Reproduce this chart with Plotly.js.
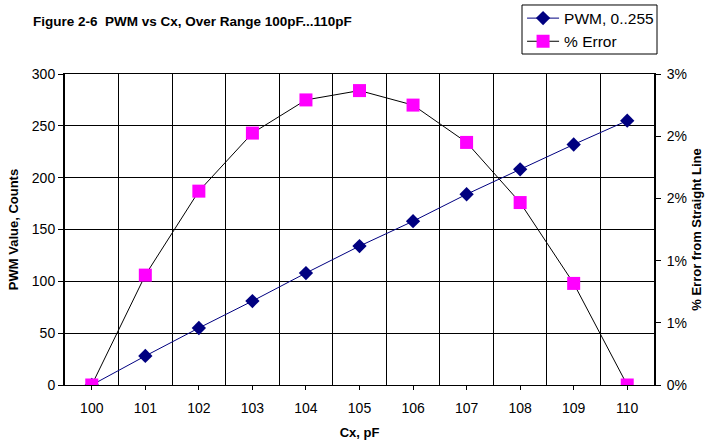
<!DOCTYPE html>
<html>
<head>
<meta charset="utf-8">
<script src="https://cdn.plot.ly/plotly-3.0.1.min.js"></script>
<style>html,body{margin:0;padding:0;background:#fff;}#chart{width:707px;height:446px;}</style>
</head>
<body>
<div id="chart"></div>
<script>
const cx = [100, 101, 102, 103, 104, 105, 106, 107, 108, 109, 110];
const pwm = [0, 28, 55, 81, 108, 134, 158, 184, 208, 232, 255];
const errorPct = [0, 1.06, 1.87, 2.43, 2.75, 2.84, 2.70, 2.34, 1.76, 0.98, 0];
const rightTickVals = [0, 0.6, 1.2, 1.8, 2.4, 3.0];
const rightTickText = ["0%", "1%", "1%", "2%", "2%", "3%"];

const fam = "Liberation Sans, Arial, sans-serif";
const tickFont = {family: fam, size: 14, color: "#000"};
const axTitleFont = {family: fam, size: 13, color: "#000"};

const traces = [
  {
    x: cx, y: pwm, name: "PWM, 0..255", type: "scatter", mode: "lines+markers",
    line: {color: "#000080", width: 1},
    marker: {symbol: "diamond", size: 11, color: "#000080"},
    yaxis: "y"
  },
  {
    x: cx, y: errorPct, name: "% Error", type: "scatter", mode: "lines+markers",
    line: {color: "#000000", width: 1},
    marker: {symbol: "square", size: 13, color: "#FF00FF"},
    yaxis: "y2"
  }
];

const layout = {
  width: 707, height: 446,
  margin: {l: 65, r: 53, t: 74, b: 61, autoexpand: false},
  paper_bgcolor: "#fff", plot_bgcolor: "#fff",
  font: {family: fam, size: 12, color: "#000"},
  showlegend: true,
  title: {
    text: "<b>Figure 2-6  PWM vs Cx, Over Range 100pF...110pF</b>",
    font: {family: fam, size: 13.5, color: "#000"},
    xref: "container", yref: "container",
    x: 33/707, xanchor: "left", y: 1 - 21/446, yanchor: "middle"
  },
  legend: {
    x: 0.776, xanchor: "left", y: 1.233, yanchor: "top",
    borderwidth: 0, bgcolor: "rgba(0,0,0,0)",
    font: {family: fam, size: 15.5, color: "#000"},
    traceorder: "normal", itemwidth: 32
  },
  shapes: [
    {type: "rect", xref: "paper", yref: "paper",
     x0: 0.7759, x1: 1.0051, y0: 1.0643, y1: 1.2219,
     line: {color: "#000", width: 1}, fillcolor: "rgba(0,0,0,0)", layer: "below"}
  ],
  xaxis: {
    range: [99.5, 110.5],
    tickvals: cx,
    ticks: "outside", ticklen: 4, tickcolor: "#000",
    ticklabelstandoff: 6,
    showgrid: false, zeroline: false,
    showline: true, linecolor: "#000", linewidth: 1, mirror: true,
    tickfont: tickFont,
    minor: {tick0: 99.5, dtick: 1, showgrid: true, gridcolor: "#000", gridwidth: 1, ticks: ""},
    title: {text: "<b>Cx, pF</b>", font: axTitleFont, standoff: 13}
  },
  yaxis: {
    range: [0, 300], dtick: 50,
    ticks: "outside", ticklen: 5, tickcolor: "#000",
    showgrid: true, gridcolor: "#000", gridwidth: 1, zeroline: false,
    showline: true, linecolor: "#000", linewidth: 2,
    tickfont: tickFont,
    title: {text: "<b>PWM Value, Counts</b>", font: axTitleFont, standoff: 10}
  },
  yaxis2: {
    overlaying: "y", side: "right",
    range: [0, 3],
    tickvals: rightTickVals, ticktext: rightTickText,
    ticks: "outside", ticklen: 5, tickcolor: "#000",
    ticklabelstandoff: 3,
    showgrid: false, zeroline: false,
    showline: true, linecolor: "#000", linewidth: 2,
    tickfont: tickFont,
    title: {text: "<b>% Error from Straight Line</b>", font: axTitleFont, standoff: 6}
  }
};

Plotly.newPlot("chart", traces, layout, {displayModeBar: false, staticPlot: true});
</script>
</body>
</html>
